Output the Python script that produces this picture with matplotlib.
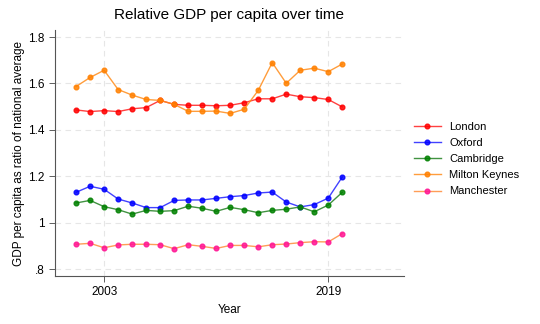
import numpy as np
import matplotlib
matplotlib.use('Agg')
import matplotlib.pyplot as plt

# Datos: PIB per cápita relativo al promedio nacional
years = list(range(2001, 2021))
london = [1.486, 1.479, 1.483, 1.479, 1.491, 1.496, 1.527, 1.510, 1.506, 1.506,
          1.504, 1.506, 1.517, 1.534, 1.534, 1.554, 1.543, 1.539, 1.531, 1.499]
oxford = [1.131, 1.157, 1.144, 1.102, 1.085, 1.065, 1.065, 1.096, 1.098, 1.098,
          1.105, 1.112, 1.117, 1.128, 1.132, 1.089, 1.068, 1.078, 1.106, 1.197]
cambridge = [1.085, 1.096, 1.069, 1.056, 1.037, 1.053, 1.049, 1.052, 1.071, 1.062,
             1.049, 1.066, 1.056, 1.043, 1.053, 1.058, 1.068, 1.047, 1.076, 1.131]
milton_keynes = [1.587, 1.626, 1.657, 1.574, 1.550, 1.531, 1.527, 1.510, 1.480, 1.480,
                 1.481, 1.471, 1.489, 1.570, 1.690, 1.601, 1.657, 1.666, 1.651, 1.684]
manchester = [0.907, 0.911, 0.892, 0.904, 0.907, 0.907, 0.905, 0.888, 0.905, 0.898,
              0.889, 0.902, 0.902, 0.896, 0.905, 0.908, 0.914, 0.918, 0.917, 0.953]

series = [
    ('London', london, '#ff2020', '#ff0000'),
    ('Oxford', oxford, '#2020ff', '#0000ff'),
    ('Cambridge', cambridge, '#208020', '#008000'),
    ('Milton Keynes', milton_keynes, '#ff8c1a', '#ff8000'),
    ('Manchester', manchester, '#ff8c3a', '#ff1493'),
]

plt.rcParams['font.family'] = ['Liberation Sans', 'DejaVu Sans']

fig = plt.figure(figsize=(5.4, 3.24), dpi=100)
ax = fig.add_axes([0.102, 0.148, 0.646, 0.759])

for nombre, valores, c_linea, c_punto in series:
    ax.plot(years, valores, color=c_linea, lw=1.0, alpha=0.85,
            marker='o', markersize=3.4, markerfacecolor=c_punto,
            markeredgecolor=c_punto, label=nombre)

ax.set_xlim(1999.5, 2024.4)
ax.set_ylim(0.77, 1.83)
ax.set_xticks([2003, 2019])
ax.set_yticks([0.8, 1.0, 1.2, 1.4, 1.6, 1.8])
ax.set_yticklabels(['.8', '1', '1.2', '1.4', '1.6', '1.8'])
ax.tick_params(labelsize=8.5, length=4, width=0.6, color='#444444')

ax.grid(True, ls=(0, (5, 4)), color='#e6e6e6', lw=0.8)
ax.set_axisbelow(True)
for lado in ['top', 'right']:
    ax.spines[lado].set_visible(False)
for lado in ['left', 'bottom']:
    ax.spines[lado].set_color('#555555')
    ax.spines[lado].set_linewidth(0.8)

ax.set_title('Relative GDP per capita over time', fontsize=11, pad=8)
ax.set_xlabel('Year', fontsize=8.5)
ax.set_ylabel('GDP per capita as ratio of national average', fontsize=8.5, labelpad=2)

ax.legend(loc='center left', bbox_to_anchor=(1.0, 0.475), frameon=False,
          fontsize=8, handlelength=2.4, labelspacing=0.55)

fig.savefig('out.png', dpi=100)
